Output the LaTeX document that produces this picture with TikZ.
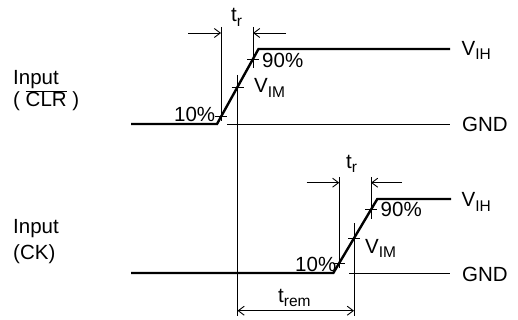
\documentclass[tikz,border=0pt]{standalone}
\usepackage{fontspec}
\setmainfont{Liberation Sans}
\usetikzlibrary{arrows.meta}
\newcommand\sbs[1]{{\fontsize{15.5}{15.5}\selectfont\raisebox{-4.5pt}{#1}}}
\begin{document}
\begin{tikzpicture}[x=1pt,y=-1pt,
  wave/.style={line width=2.4pt, line join=miter},
  thinln/.style={line width=0.9pt},
  dimarrow/.style={line width=0.9pt, -{Straight Barb[length=6pt,width=9pt]}},
  dimboth/.style={line width=0.9pt, {Straight Barb[length=6pt,width=9pt]}-{Straight Barb[length=6pt,width=9pt]}},
  lbl/.style={inner sep=0pt, anchor=base west, font=\fontsize{20.5}{24}\selectfont}]
\useasboundingbox (0,0) rectangle (518,320);
% ---------- top waveform (CLR) ----------
\coordinate (a0) at (131,124);
\coordinate (a1) at (217,124);
\coordinate (a2) at (258.5,49);
\coordinate (a3) at (450,49);
\draw[wave] (a0) -- (a1) -- (a2) -- (a3);
% verticals
\coordinate (v10t) at (221,27);   \coordinate (v10b) at (221,121);
\coordinate (vmt) at (237.5,75);  \coordinate (vmb) at (237.5,316);
\coordinate (v90t) at (253,27);   \coordinate (v90b) at (253,68);
\draw[thinln] (v10t) -- (v10b);
\draw[thinln] (vmt) -- (vmb);
\draw[thinln] (v90t) -- (v90b);
% ticks
\coordinate (k1) at (221,116.8);
\coordinate (k2) at (237.5,87);
\coordinate (k3) at (253,59);
\foreach \k in {k1,k2,k3} \draw[thinln] ([xshift=-6pt]\k) -- ([xshift=6pt]\k);
% GND line
\coordinate (g1a) at (227,124); \coordinate (g1b) at (450,124);
\draw[thinln] (g1a) -- (g1b);
% t_r arrows
\coordinate (ra1) at (188,33); \coordinate (ra2) at (221,33);
\coordinate (rb1) at (286,33); \coordinate (rb2) at (253,33);
\draw[dimarrow] (ra1) -- (ra2);
\draw[dimarrow] (rb1) -- (rb2);
% ---------- bottom waveform (CK) ----------
\coordinate (b0) at (131,273);
\coordinate (b1) at (333.3,273);
\coordinate (b2) at (377.3,199);
\coordinate (b3) at (451,199);
\draw[wave] (b0) -- (b1) -- (b2) -- (b3);
\coordinate (w10t) at (339.3,177); \coordinate (w10b) at (339.3,268);
\coordinate (wmt) at (354,223);    \coordinate (wmb) at (354,316);
\coordinate (w90t) at (371,177);   \coordinate (w90b) at (371,219);
\draw[thinln] (w10t) -- (w10b);
\draw[thinln] (wmt) -- (wmb);
\draw[thinln] (w90t) -- (w90b);
\coordinate (m1) at (339.3,263);
\coordinate (m2) at (354,238.2);
\coordinate (m3) at (371,209.6);
\foreach \k in {m1,m2,m3} \draw[thinln] ([xshift=-6pt]\k) -- ([xshift=6pt]\k);
\coordinate (g2a) at (349,273); \coordinate (g2b) at (450,273);
\draw[thinln] (g2a) -- (g2b);
\coordinate (sa1) at (306.7,182.7); \coordinate (sa2) at (339.3,182.7);
\coordinate (sb1) at (402,182.7);   \coordinate (sb2) at (371,182.7);
\draw[dimarrow] (sa1) -- (sa2);
\draw[dimarrow] (sb1) -- (sb2);
% t_rem
\coordinate (re1) at (237.5,310.7); \coordinate (re2) at (354,310.7);
\draw[dimboth] (re1) -- (re2);
% ---------- labels ----------
\node[lbl] (trtop) at (231,22) {t\sbs{r}};
\node[lbl] (p90top) at (262,68) {90\%};
\node[lbl] (vimtop) at (254,93) {V\sbs{IM}};
\node[lbl] (p10top) at (174,122) {10\%};
\node[lbl] (vihtop) at (461.5,55.5) {V\sbs{IH}};
\node[lbl] (gndtop) at (462,131.5) {GND};
\node[lbl] (trbot) at (346,168) {t\sbs{r}};
\node[lbl] (p90bot) at (380.5,216.5) {90\%};
\node[lbl] (vimbot) at (365,253) {V\sbs{IM}};
\node[lbl] (p10bot) at (295,271) {10\%};
\node[lbl] (vihbot) at (461.5,206.5) {V\sbs{IH}};
\node[lbl] (gndbot) at (462,281.5) {GND};
\node[lbl] (trem) at (278,302) {t\sbs{rem}};
\node[lbl] (in1) at (13,85) {Input};
\node[lbl] (clr) at (13,106.5) {( $\overline{\mbox{CLR}}$ )};
\node[lbl] (in2) at (13,233) {Input};
\node[lbl] (ck) at (13,259) {(CK)};
\end{tikzpicture}
\end{document}
